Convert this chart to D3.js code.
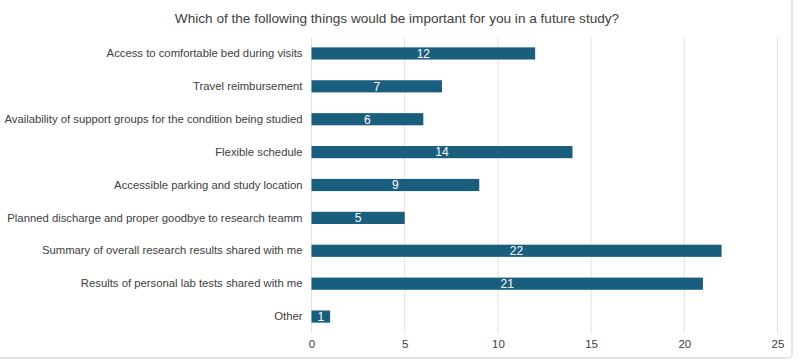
<!DOCTYPE html>
<html>
<head>
<meta charset="utf-8">
<script src="https://cdn.jsdelivr.net/npm/d3@7"></script>
<style>
  body { margin: 0; background: #fff; }
  text { font-family: "Liberation Sans", Arial, sans-serif; }
</style>
</head>
<body>
<div id="chart"></div>
<script>
var categories = [
    "Access to comfortable bed during visits",
    "Travel reimbursement",
    "Availability of support groups for the condition being studied",
    "Flexible schedule",
    "Accessible parking and study location",
    "Planned discharge and proper goodbye to research teamm",
    "Summary of overall research results shared with me",
    "Results of personal lab tests shared with me",
    "Other"
];
var counts = [12, 7, 6, 14, 9, 5, 22, 21, 1];
var xTicks = [0, 5, 10, 15, 20, 25];
var title = "Which of the following things would be important for you in a future study?";

var width = 800,
    height = 363;

var svg = d3.select("#chart")
    .append("svg")
    .attr("width", width)
    .attr("height", height);

// frame
svg.append("rect")
    .attr("x", -10).attr("y", -10)
    .attr("width", 802).attr("height", 368)
    .attr("rx", 4)
    .style("fill", "none")
    .style("stroke", "#dcdcdc")
    .style("stroke-width", 1.5);

var x = d3.scaleLinear()
    .domain([0, 25])
    .range([311.5, 777.5]);

var y = d3.scaleBand()
    .domain(categories)
    .range([37, 333])
    .paddingInner(0.63)
    .paddingOuter(0.315);

// title
svg.append("text")
    .attr("x", 397)
    .attr("y", 23)
    .attr("text-anchor", "middle")
    .style("font-size", "13.6px")
    .style("fill", "#404040")
    .text(title);

// grid
svg.append("g")
    .selectAll("line")
    .data(xTicks)
    .enter()
    .append("line")
    .attr("x1", d => x(d))
    .attr("x2", d => x(d))
    .attr("y1", 37)
    .attr("y2", 333)
    .style("stroke", "#e2e2e2")
    .style("stroke-width", 1);

// x axis labels
var xAxis = d3.axisBottom(x).tickValues(xTicks).tickSize(0).tickPadding(0);
var gx = svg.append("g")
    .attr("transform", "translate(0,340)")
    .call(xAxis);
gx.select(".domain").remove();
gx.selectAll("text")
    .style("font-size", "11.5px")
    .style("fill", "#404040")
    .style("font-family", "'Liberation Sans', Arial, sans-serif");

// y axis labels
var yAxis = d3.axisLeft(y).tickSize(0).tickPadding(9);
var gy = svg.append("g")
    .attr("transform", "translate(" + x(0) + ",0)")
    .call(yAxis);
gy.select(".domain").remove();
gy.selectAll("text")
    .style("font-size", "11.3px")
    .style("fill", "#404040")
    .style("font-family", "'Liberation Sans', Arial, sans-serif");

// bars
svg.append("g")
    .selectAll("rect")
    .data(categories)
    .enter()
    .append("rect")
    .attr("x", x(0))
    .attr("y", d => y(d))
    .attr("width", (d, i) => x(counts[i]) - x(0))
    .attr("height", y.bandwidth())
    .style("fill", "#1a5e7e");

// value labels
svg.append("g")
    .selectAll("text")
    .data(categories)
    .enter()
    .append("text")
    .attr("x", (d, i) => (x(0) + x(counts[i])) / 2)
    .attr("y", d => y(d) + y.bandwidth() / 2)
    .attr("dy", "0.36em")
    .attr("text-anchor", "middle")
    .style("font-size", "12px")
    .style("fill", "#fff")
    .text((d, i) => counts[i]);
</script>
</body>
</html>
